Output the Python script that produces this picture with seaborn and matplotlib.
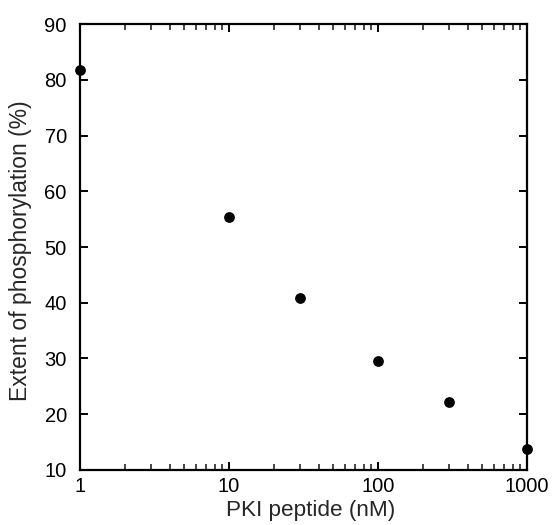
import matplotlib
matplotlib.use("Agg")
import matplotlib.pyplot as plt
import matplotlib.ticker as mticker
import seaborn as sns
import pandas as pd

# PKI peptide concentration (nM) vs extent of phosphorylation (%)
pki_nM = [1, 10, 30, 100, 300, 1000]
phospho_pct = [81.8, 55.4, 40.8, 29.6, 22.2, 13.7]

sns.set_style("ticks")
plt.rcParams['font.family'] = ['Liberation Sans', 'DejaVu Sans']

df = pd.DataFrame({"pki": pki_nM, "phos": phospho_pct})

fig = plt.figure(figsize=(5.52, 5.25), dpi=100)
ax = fig.add_axes([0.145, 0.105, 0.81, 0.849])

sns.scatterplot(data=df, x="pki", y="phos", ax=ax, color="black",
                s=60, edgecolor="black", linewidth=0, clip_on=False, zorder=5)

ax.set_xscale("log")
ax.set_xlim(1, 1000)
ax.set_ylim(10, 90)
ax.set_yticks(range(10, 91, 10))
ax.xaxis.set_major_formatter(mticker.FuncFormatter(lambda v, p: "%d" % v))
ax.xaxis.set_minor_locator(mticker.LogLocator(base=10, subs=range(2, 10)))
ax.xaxis.set_minor_formatter(mticker.NullFormatter())

for s in ax.spines.values():
    s.set_linewidth(1.6)
    s.set_color("black")

ax.tick_params(which="major", direction="in", length=6, width=1.4,
               top=True, right=True, labelsize=14.5, colors="black")
ax.tick_params(axis="y", which="major", pad=9.5)
ax.tick_params(axis="x", which="major", pad=5)
ax.tick_params(which="minor", direction="in", length=4, width=1.2,
               top=True, right=False, left=False)

ax.set_xlabel("PKI peptide (nM)", fontsize=16.2)
ax.set_ylabel("Extent of phosphorylation (%)", fontsize=16.5)
ax.xaxis.set_label_coords(0.515, -0.068)
ax.yaxis.set_label_coords(-0.107, 0.491)

fig.savefig("out.png", dpi=100)
